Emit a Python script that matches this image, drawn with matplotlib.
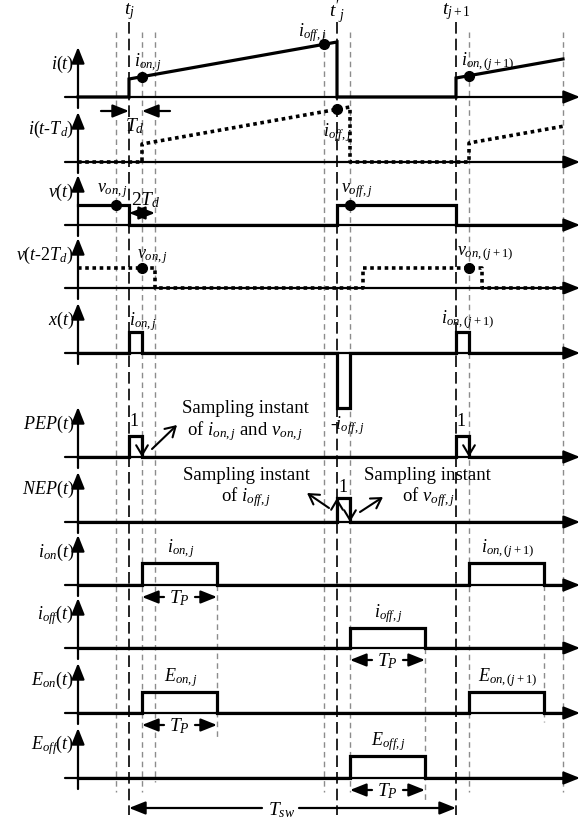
import numpy as np
import matplotlib.pyplot as plt

plt.rcParams['font.family'] = ['Liberation Serif', 'DejaVu Serif']
plt.rcParams['mathtext.fontset'] = 'custom'
plt.rcParams['mathtext.rm'] = 'Liberation Serif'
plt.rcParams['mathtext.it'] = 'Liberation Serif:italic'

# switching events (time units, origin on the vertical axes)
t_j = 51        # t_j
t_off = 259     # t'_j
t_j1 = 378      # t_{j+1}
t_end = 485
Td = 13
Tp = 75

# inductor current levels
i_start = [18, 19]   # just after t_j and t_{j+1}
i_peak = 55          # just before t'_j
v_high = 20

# pulse heights of the derived signals
x_pos, x_neg = 21, 55
pep_h, nep_h = 21, 24
ion_h, ioff_h = 22, 20
eon_h, eoff_h = 21, 22

names = ['$i(t)$', '$i(t$-$T_d)$', '$v(t)$', '$v(t$-$2T_d)$', '$x(t)$',
         '$PEP(t)$', '$NEP(t)$', '$i_{on}(t)$', '$i_{off}(t)$',
         '$E_{on}(t)$', '$E_{off}(t)$']
base = [97, 162, 225, 288, 353, 457, 522, 585, 648, 713, 778]

fig = plt.figure(figsize=(5.88, 8.22), dpi=100)
ax = fig.add_axes([0, 0, 1, 1])
ax.set_xlim(-78, 510)
ax.set_ylim(822, 0)
ax.axis('off')

solid = dict(color='k', lw=2.3, solid_joinstyle='miter')
dotted = dict(color='k', lw=2.6, linestyle=(0, (1, 1)))
tri = dict(arrowstyle='-|>,head_length=0.7,head_width=0.28', color='k', lw=1.6,
           shrinkA=0, shrinkB=0, mutation_scale=14)
vee = dict(arrowstyle='->,head_length=0.5,head_width=0.3', color='k', lw=1.5,
           shrinkA=0, shrinkB=0, mutation_scale=14)
fs = 13

# vertical guide lines
gray = dict(color='#8c8c8c', lw=1.0, dashes=[4, 3])
for t in [t_j - Td, t_j + Td, t_off - Td, t_off + Td, t_j1 + Td, t_end]:
    ax.plot([t, t], [32, 792], **gray)
ax.plot([t_j + 2 * Td] * 2, [32, 782], **gray)
ax.plot([t_j + Td + Tp] * 2, [585, 740], **gray)
ax.plot([t_off + Td + Tp] * 2, [648, 800], **gray)
ax.plot([t_j1 + Td + Tp] * 2, [585, 722], **gray)
for t, lab in [(t_j, '$t_j$'), (t_off, "$t'_j$"), (t_j1, '$t_{j+1}$')]:
    ax.plot([t, t], [22, 815], color='k', lw=1.2, dashes=[7, 3])
    ax.text(t, 12, lab, ha='center', va='center', fontsize=fs + 1)

# axes for every channel
for b, name in zip(base, names):
    ax.annotate('', xy=(502, b), xytext=(-13, b), arrowprops=tri)
    ax.annotate('', xy=(0, b - 50), xytext=(0, b + 11), arrowprops=tri)
    ax.text(-4, b - 33, name, ha='right', va='center', fontsize=fs)

slope = (i_peak - i_start[0]) / (t_off - t_j)


def i_of(t):
    if t_j <= t < t_off:
        return i_start[0] + slope * (t - t_j)
    if t >= t_j1:
        return i_start[1] + slope * (t - t_j1)
    return 0.0


def i_path(d):
    tt = [0, t_j + d, t_j + d, t_off + d, t_off + d, t_j1 + d, t_j1 + d, t_end]
    vv = [0, 0, i_start[0], i_peak, 0, 0, i_start[1], i_of(t_end - d)]
    return np.array(tt), np.array(vv)


def v_path(d):
    tt = [0, t_j + d, t_j + d, t_off + d, t_off + d, t_j1 + d, t_j1 + d, t_end]
    vv = [v_high, v_high, 0, 0, v_high, v_high, 0, 0]
    return np.array(tt), np.array(vv)


def pulses(starts, width, heights):
    tt, vv = [0], [0]
    for s, h in zip(starts, heights):
        tt += [s, s, s + width, s + width]
        vv += [0, h, h, 0]
    tt.append(t_end)
    vv.append(0)
    return np.array(tt), np.array(vv)


# i(t) and i(t-Td)
tt, vv = i_path(0)
ax.plot(tt, base[0] - vv, **solid)
tt, vv = i_path(Td)
ax.plot(tt, base[1] - vv, **dotted)
dots_i = [t_j + Td, t_off - Td, t_j1 + Td]
ax.plot(dots_i, [base[0] - i_of(t) for t in dots_i], 'o', color='k', ms=7)
ax.plot([t_off], [base[1] - i_of(t_off - Td)], 'o', color='k', ms=7)
ax.text(t_j + 19, 63, '$i_{on,j}$', ha='center', va='center', fontsize=fs)
ax.text(t_off - 25, 33, '$i_{off,j}$', ha='center', va='center', fontsize=fs)
ax.text(t_j1 + 32, 62, '$i_{on,(j+1)}$', ha='center', va='center', fontsize=fs)
ax.text(t_off, 133, '$i_{off,j}$', ha='center', va='center', fontsize=fs)

# T_d marker
ax.annotate('', xy=(t_j, 111), xytext=(t_j - 28, 111), arrowprops=tri)
ax.annotate('', xy=(t_j + Td, 111), xytext=(t_j + Td + 28, 111), arrowprops=tri)
ax.text(t_j + 6, 126, '$T_d$', ha='center', va='center', fontsize=fs + 1)

# v(t) and v(t-2Td)
tt, vv = v_path(0)
ax.plot(tt, base[2] - vv, **solid)
tt, vv = v_path(2 * Td)
ax.plot(tt, base[3] - vv, **dotted)
ax.plot([t_j - Td, t_off + Td], [base[2] - v_high] * 2, 'o', color='k', ms=7)
ax.plot([t_j + Td, t_j1 + Td], [base[3] - v_high] * 2, 'o', color='k', ms=7)
ax.text(t_j - 17, 191, '$v_{on,j}$', ha='center', va='center', fontsize=fs)
ax.text(t_off + 20, 191, '$v_{off,j}$', ha='center', va='center', fontsize=fs)
ax.text(t_j + 23, 257, '$v_{on,j}$', ha='center', va='center', fontsize=fs)
ax.text(t_j1 + 29, 254, '$v_{on,(j+1)}$', ha='center', va='center', fontsize=fs)
ax.annotate('', xy=(t_j + 2 * Td, 213), xytext=(t_j, 213),
            arrowprops=dict(tri, arrowstyle='<|-|>,head_length=0.7,head_width=0.28'))
ax.text(t_j + 17, 200, '$2T_d$', ha='center', va='center', fontsize=fs + 1)

# x(t)
tt, vv = pulses([t_j, t_off, t_j1], Td, [x_pos, -x_neg, x_pos])
ax.plot(tt, base[4] - vv, **solid)
ax.text(t_j + 14, 322, '$i_{on,j}$', ha='center', va='center', fontsize=fs)
ax.text(t_j1 + 12, 320, '$i_{on,(j+1)}$', ha='center', va='center', fontsize=fs)
ax.text(t_off + 10, 426, '-$i_{off,j}$', ha='center', va='center', fontsize=fs)

# PEP(t)
b = base[5]
tt, vv = pulses([t_j, t_j1], Td, [pep_h, pep_h])
ax.plot(tt, b - vv, **solid)
for s in [t_j, t_j1]:
    ax.annotate('', xy=(s + Td, b), xytext=(s + Td, b - pep_h), arrowprops=vee)
    ax.text(s + 5, b - 36, '1', ha='center', va='center', fontsize=fs)
ax.annotate('', xy=(t_j + 48, 425), xytext=(t_j + 23, 449), arrowprops=vee)
ax.text(167, 408, 'Sampling instant', ha='center', va='center', fontsize=fs + 0.5)
ax.text(167, 431, 'of $i_{on,j}$ and $v_{on,j}$', ha='center', va='center', fontsize=fs + 0.5)

# NEP(t)
b = base[6]
tt, vv = pulses([t_off], Td, [nep_h])
ax.plot(tt, b - vv, **solid)
ax.annotate('', xy=(t_off, b - nep_h), xytext=(t_off, b), arrowprops=vee)
ax.annotate('', xy=(t_off + Td, b), xytext=(t_off + Td, b - nep_h), arrowprops=vee)
ax.text(t_off + 6, b - 35, '1', ha='center', va='center', fontsize=fs)
ax.annotate('', xy=(t_off - 30, 493), xytext=(t_off - 8, 508), arrowprops=vee)
ax.annotate('', xy=(t_off + 46, 497), xytext=(t_off + 23, 512), arrowprops=vee)
ax.text(168, 475, 'Sampling instant', ha='center', va='center', fontsize=fs + 0.5)
ax.text(168, 497, 'of $i_{off,j}$', ha='center', va='center', fontsize=fs + 0.5)
ax.text(349, 475, 'Sampling instant', ha='center', va='center', fontsize=fs + 0.5)
ax.text(350, 497, 'of $v_{off,j}$', ha='center', va='center', fontsize=fs + 0.5)

# held samples and energies
on_starts = [t_j + Td, t_j1 + Td]
off_starts = [t_off + Td]
rows = [(7, on_starts, ion_h, ['$i_{on,j}$', '$i_{on,(j+1)}$']),
        (8, off_starts, ioff_h, ['$i_{off,j}$']),
        (9, on_starts, eon_h, ['$E_{on,j}$', '$E_{on,(j+1)}$']),
        (10, off_starts, eoff_h, ['$E_{off,j}$'])]
for k, starts, h, labs in rows:
    b = base[k]
    tt, vv = pulses(starts, Tp, [h] * len(starts))
    ax.plot(tt, b - vv, **solid)
    for s, lab in zip(starts, labs):
        ax.text(s + Tp / 2 + 1, b - h - 14, lab, ha='center', va='center', fontsize=fs)
    # T_P span under the first pulse
    s = starts[0]
    y = b + 12
    ax.annotate('', xy=(s, y), xytext=(s + 22, y), arrowprops=tri)
    ax.annotate('', xy=(s + Tp, y), xytext=(s + Tp - 22, y), arrowprops=tri)
    ax.text(s + Tp / 2, y + 1, '$T_P$', ha='center', va='center', fontsize=fs + 1)

# switching period
ax.annotate('', xy=(t_j, 808), xytext=(t_j + 133, 808), arrowprops=tri)
ax.annotate('', xy=(t_j1, 808), xytext=(t_j + 170, 808), arrowprops=tri)
ax.text(t_j + 153, 810, '$T_{sw}$', ha='center', va='center', fontsize=fs + 1)

fig.savefig('out.png', dpi=100)
